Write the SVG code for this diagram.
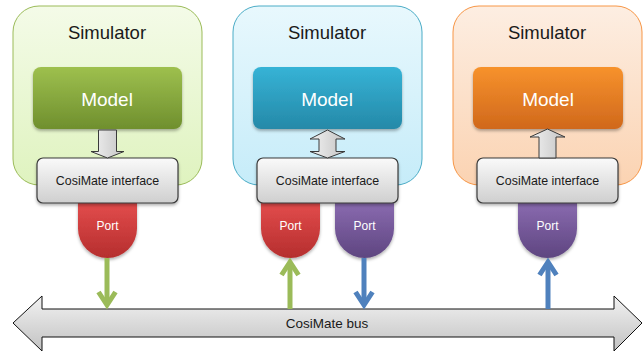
<svg xmlns="http://www.w3.org/2000/svg" width="644" height="352" viewBox="0 0 644 352">
<style>
.sim-t{font-family:"Liberation Sans",Arial,sans-serif;font-size:18.5px;fill:#1a1a1a;text-anchor:middle}
.mod-t{font-family:"Liberation Sans",Arial,sans-serif;font-size:19px;fill:#ffffff;text-anchor:middle}
.if-t{font-family:"Liberation Sans",Arial,sans-serif;font-size:12.4px;fill:#1a1a1a;text-anchor:middle}
.port-t{font-family:"Liberation Sans",Arial,sans-serif;font-size:12px;fill:#ffffff;text-anchor:middle}
.bus-t{font-family:"Liberation Sans",Arial,sans-serif;font-size:13.5px;fill:#1a1a1a;text-anchor:middle}
.iface{fill:url(#gIf);stroke:#3a3a3a;stroke-width:1.2}
.garrow{fill:url(#gGrayArr);stroke:#3a3a3a;stroke-width:1}
.green{stroke:#9bbb59;stroke-width:5;fill:none;stroke-linejoin:miter}
.blue{stroke:#4f81bd;stroke-width:5;fill:none;stroke-linejoin:miter}
</style>
<defs>
<linearGradient id="gSim1" x1="0" y1="0" x2="0" y2="1"><stop offset="0" stop-color="#f4fbe8"/><stop offset="1" stop-color="#dff3bf"/></linearGradient>
<linearGradient id="gSim2" x1="0" y1="0" x2="0" y2="1"><stop offset="0" stop-color="#e8f8fd"/><stop offset="1" stop-color="#c6ecf9"/></linearGradient>
<linearGradient id="gSim3" x1="0" y1="0" x2="0" y2="1"><stop offset="0" stop-color="#fdeee2"/><stop offset="1" stop-color="#fbd3b2"/></linearGradient>
<linearGradient id="gMod1" x1="0" y1="0" x2="0" y2="1"><stop offset="0" stop-color="#9ec04e"/><stop offset="1" stop-color="#6f8f2e"/></linearGradient>
<linearGradient id="gMod2" x1="0" y1="0" x2="0" y2="1"><stop offset="0" stop-color="#36b3d6"/><stop offset="1" stop-color="#2589a8"/></linearGradient>
<linearGradient id="gMod3" x1="0" y1="0" x2="0" y2="1"><stop offset="0" stop-color="#f7922c"/><stop offset="1" stop-color="#d0681c"/></linearGradient>
<linearGradient id="gIf" x1="0" y1="0" x2="0" y2="1"><stop offset="0" stop-color="#fafafa"/><stop offset="1" stop-color="#cfcfcf"/></linearGradient>
<linearGradient id="gGrayArr" x1="0" y1="0" x2="1" y2="0"><stop offset="0" stop-color="#f2f2f2"/><stop offset="1" stop-color="#c4c4c4"/></linearGradient>
<linearGradient id="gBus" x1="0" y1="0" x2="0" y2="1"><stop offset="0" stop-color="#f2f2f2"/><stop offset="1" stop-color="#c2c2c2"/></linearGradient>
<linearGradient id="gRed" x1="0" y1="0" x2="0" y2="1"><stop offset="0" stop-color="#e34c4c"/><stop offset="1" stop-color="#b52e2e"/></linearGradient>
<linearGradient id="gPur" x1="0" y1="0" x2="0" y2="1"><stop offset="0" stop-color="#8a6bb0"/><stop offset="1" stop-color="#5e4580"/></linearGradient>
<filter id="sh" x="-10%" y="-10%" width="130%" height="140%"><feDropShadow dx="0" dy="2" stdDeviation="1.5" flood-color="#000" flood-opacity="0.3"/></filter>
</defs>

<g id="simulator1">
<rect x="13" y="6" width="189" height="179" rx="26" fill="url(#gSim1)" stroke="#9bbb59" stroke-width="1"/>
<text class="sim-t" x="107" y="39">Simulator</text>
</g>
<g id="simulator2">
<rect x="233" y="6" width="189" height="179" rx="26" fill="url(#gSim2)" stroke="#4bacc6" stroke-width="1"/>
<text class="sim-t" x="327" y="39">Simulator</text>
</g>
<g id="simulator3">
<rect x="453" y="6" width="189" height="179" rx="26" fill="url(#gSim3)" stroke="#f79646" stroke-width="1"/>
<text class="sim-t" x="547" y="39">Simulator</text>
</g>

<g id="model1">
<rect x="33" y="67" width="149" height="62" rx="8" fill="url(#gMod1)" filter="url(#sh)"/>
<text class="mod-t" x="107" y="106">Model</text>
</g>
<g id="model2">
<rect x="253" y="67" width="149" height="62" rx="8" fill="url(#gMod2)" filter="url(#sh)"/>
<text class="mod-t" x="327" y="106">Model</text>
</g>
<g id="model3">
<rect x="473" y="67" width="150" height="62" rx="8" fill="url(#gMod3)" filter="url(#sh)"/>
<text class="mod-t" x="548" y="106">Model</text>
</g>

<g id="ports">
<g id="port1">
<path d="M78 202 H137 V228.5 A29.5 29.5 0 0 1 78 228.5 Z" fill="url(#gRed)" filter="url(#sh)"/>
<text class="port-t" x="107.5" y="230">Port</text>
</g>
<g id="port2">
<path d="M261 202 H320 V228.5 A29.5 29.5 0 0 1 261 228.5 Z" fill="url(#gRed)" filter="url(#sh)"/>
<text class="port-t" x="290.5" y="230">Port</text>
</g>
<g id="port3">
<path d="M335 202 H394 V228.5 A29.5 29.5 0 0 1 335 228.5 Z" fill="url(#gPur)" filter="url(#sh)"/>
<text class="port-t" x="364.5" y="230">Port</text>
</g>
<g id="port4">
<path d="M518 202 H577 V228.5 A29.5 29.5 0 0 1 518 228.5 Z" fill="url(#gPur)" filter="url(#sh)"/>
<text class="port-t" x="547.5" y="230">Port</text>
</g>
</g>

<g id="interface1">
<rect class="iface" x="37" y="158" width="141" height="45" rx="6" filter="url(#sh)"/>
<text class="if-t" x="107.5" y="185">CosiMate interface</text>
</g>
<g id="interface2">
<rect class="iface" x="257" y="158" width="141" height="45" rx="6" filter="url(#sh)"/>
<text class="if-t" x="327.5" y="185">CosiMate interface</text>
</g>
<g id="interface3">
<rect class="iface" x="477" y="158" width="141" height="45" rx="6" filter="url(#sh)"/>
<text class="if-t" x="547.5" y="185">CosiMate interface</text>
</g>

<g id="bus">
<path d="M13 323 L42 296 L42 309 L614 309 L614 296 L642 323 L614 351 L614 337 L42 337 L42 351 Z" fill="url(#gBus)" stroke="#111" stroke-width="1"/>
<text class="bus-t" x="327" y="328">CosiMate bus</text>
</g>

<g id="connectors">
<path class="garrow" d="M98.5 130 H116.5 V151.5 H124 L107.5 158 L91 151.5 H98.5 Z"/>
<path class="garrow" d="M327.5 130 L345 139 H336 V151.5 H345 L327.5 158 L310 151.5 H319 V139 H310 Z"/>
<path class="garrow" d="M547.5 129 L565 137 H556 V158 H539 V137 H530 Z"/>
<line class="green" x1="107" y1="258" x2="107" y2="305"/>
<polyline class="green" points="98.5,292 107,305 115.5,292"/>
<line class="green" x1="290" y1="309" x2="290" y2="262"/>
<polyline class="green" points="281.5,275 290,262 298.5,275"/>
<line class="blue" x1="364" y1="258" x2="364" y2="305"/>
<polyline class="blue" points="355.5,292 364,305 372.5,292"/>
<line class="blue" x1="548" y1="309" x2="548" y2="262"/>
<polyline class="blue" points="539.5,275 548,262 556.5,275"/>
</g>
</svg>
